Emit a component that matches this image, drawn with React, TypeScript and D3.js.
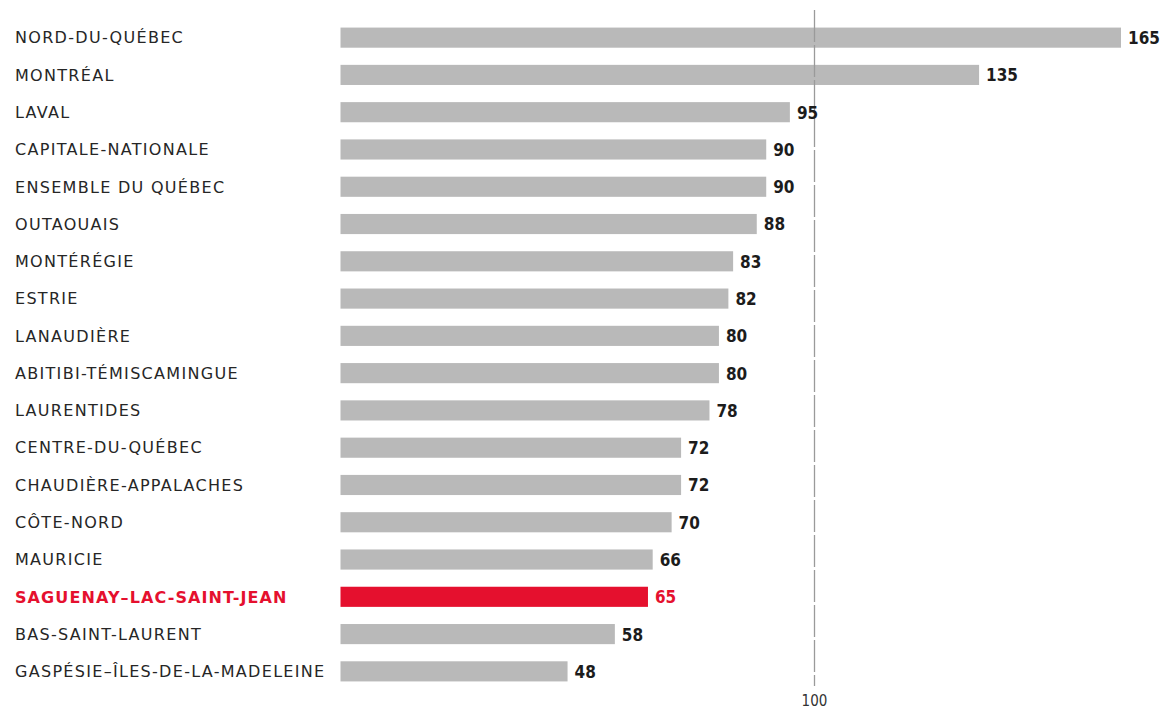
import React from "react";
import * as d3 from "d3";

const regions = [
  "NORD-DU-QUÉBEC",
  "MONTRÉAL",
  "LAVAL",
  "CAPITALE-NATIONALE",
  "ENSEMBLE DU QUÉBEC",
  "OUTAOUAIS",
  "MONTÉRÉGIE",
  "ESTRIE",
  "LANAUDIÈRE",
  "ABITIBI-TÉMISCAMINGUE",
  "LAURENTIDES",
  "CENTRE-DU-QUÉBEC",
  "CHAUDIÈRE-APPALACHES",
  "CÔTE-NORD",
  "MAURICIE",
  "SAGUENAY–LAC-SAINT-JEAN",
  "BAS-SAINT-LAURENT",
  "GASPÉSIE–ÎLES-DE-LA-MADELEINE",
];
const values = [165, 135, 95, 90, 90, 88, 83, 82, 80, 80, 78, 72, 72, 70, 66, 65, 58, 48];
const highlight = "SAGUENAY–LAC-SAINT-JEAN";
const referenceValue = 100;

const W = 1163;
const H = 710;
const GRAY = "#b9b9b9";
const RED = "#e5102e";
const FONT = "'DejaVu Sans Condensed', 'DejaVu Sans', sans-serif";
const LABEL_FONT = "'DejaVu Sans', sans-serif";

export default function App() {
  const x = d3.scaleLinear().domain([0, 165]).range([340.5, 1121]);
  const y = d3.scaleBand().domain(regions).range([19, 690]).paddingInner(0.46).paddingOuter(0.23);
  const bw = y.bandwidth();
  const rx = Math.round(x(referenceValue)) + 0.5;
  return (
    <svg width={W} height={H} style={{ position: "absolute", left: 0, top: 0, background: "#fff" }}>
      {regions.map((r, i) => {
        const hi = r === highlight;
        const yc = (y(r) as number) + bw / 2;
        return (
          <g key={r}>
            <text x={15} y={yc} dy="0.36em" fontFamily={LABEL_FONT} fontSize={16} letterSpacing={hi ? 1.1 : 1.3} fill={hi ? RED : "#262626"} fontWeight={hi ? "bold" : "normal"}>
              {r}
            </text>
            <rect x={x(0)} y={y(r)} width={x(values[i]) - x(0)} height={bw} fill={hi ? RED : GRAY} />
          </g>
        );
      })}
      <line x1={rx} x2={rx} y1={10} y2={686} stroke="#9a9a9a" strokeWidth={1.3} strokeDasharray="32,3" />
      {regions.map((r, i) => {
        const hi = r === highlight;
        const yc = (y(r) as number) + bw / 2;
        return (
          <text key={r + "v"} x={x(values[i]) + 7} y={yc} dy="0.38em" fontFamily={FONT} fontWeight="bold" fontSize={17} fill={hi ? RED : "#1c1c1c"}>
            {values[i]}
          </text>
        );
      })}
      <text x={rx} y={706} textAnchor="middle" fontFamily={FONT} fontSize={15} fill="#333">
        {referenceValue}
      </text>
    </svg>
  );
}
